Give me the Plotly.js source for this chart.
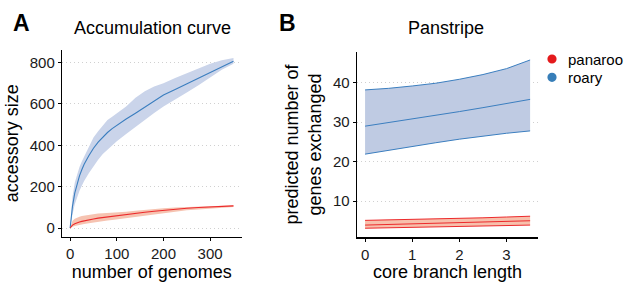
<!DOCTYPE html>
<html>
<head>
<meta charset="utf-8">
<script src="https://cdn.plot.ly/plotly-3.0.1.min.js"></script>
<style>
html,body{margin:0;padding:0;background:#fff;}
#chart{width:626px;height:282px;}
</style>
</head>
<body>
<div id="chart"></div>
<script>
// Panel A: accumulation curve
const accX = [0,2,5,10,15,20,25,30,40,50,60,70,80,90,100,120,140,160,180,200,225,250,275,300,325,350];
const roaryAccMean  = [0,55,105,170,215,252,282,308,350,386,415,440,462,481,497,527,555,584,613,643,670,697,722,748,778,806];
const roaryAccUpper = [0,85,150,220,262,295,322,345,392,438,468,498,522,538,555,588,630,662,685,700,725,748,772,795,812,822];
const roaryAccLower = [0,30,65,115,150,180,205,228,265,300,330,358,380,400,420,455,490,522,556,588,624,656,690,728,765,795];
const panarooAccMean  = [0,8,14,21,26,29,32,35,40,44,48,51,54,58,61,66,71,76,81,86,91,96,99,102,105,107];
const panarooAccUpper = [0,20,35,45,51,55,58,60,64,67,70,71,72,74,75,79,83,88,92,96,99,102,104,106,108,110];
const panarooAccLower = [0,3,6,10,13,15,17,19,23,27,31,34,36,39,42,48,54,60,66,72,80,86,90,94,98,102];

// Panel B: Panstripe
const branchX = [0,0.5,1,1.5,2,2.5,3,3.5];
const roaryPsMean  = [29.0,29.9,30.8,31.7,32.7,33.7,34.7,35.8];
const roaryPsUpper = [38.2,38.6,39.2,39.9,40.9,42.1,43.6,45.8];
const roaryPsLower = [21.9,22.9,23.9,24.8,25.7,26.5,27.2,27.8];
const panarooPsMean  = [3.9,4.05,4.2,4.35,4.5,4.65,4.8,5.0];
const panarooPsUpper = [5.1,5.2,5.3,5.45,5.6,5.75,5.95,6.15];
const panarooPsLower = [3.1,3.2,3.3,3.4,3.5,3.6,3.75,3.9];

const seriesNames = ["panaroo","roary"];
const legendColors = ["#e41a1c","#377eb8"];
const accXTicks = [0,100,200,300];
const accYTicks = [0,200,400,600,800];
const psXTicks = [0,1,2,3];
const psYTicks = [10,20,30,40];

const BLUE = "#3b7ebf", RED = "#ec2a2c";
const BLUE_FILL_A = "#cad4ea", RED_FILL_A = "#f6c3b1";
const BLUE_FILL_B = "#bfcbe3", RED_FILL_B = "#f7c0ac";
const FONT = "Liberation Sans, Arial, sans-serif";
const W = 626, H = 282;

function band(x, lo, hi, fill, xa, ya, lineColor, lw) {
  const w = lineColor ? lw : 0;
  return [
    {x:x, y:lo, xaxis:xa, yaxis:ya, type:"scatter", mode:"lines",
     line:{color: lineColor || fill, width: w}, showlegend:false, hoverinfo:"skip"},
    {x:x, y:hi, xaxis:xa, yaxis:ya, type:"scatter", mode:"lines", fill:"tonexty",
     fillcolor:fill, line:{color: lineColor || fill, width: w}, showlegend:false, hoverinfo:"skip"}
  ];
}
function line(x, y, color, xa, ya, w) {
  return {x:x, y:y, xaxis:xa, yaxis:ya, type:"scatter", mode:"lines",
          line:{color:color, width:w}, showlegend:false, hoverinfo:"skip"};
}

const traces = [].concat(
  band(accX, roaryAccLower, roaryAccUpper, BLUE_FILL_A, "x", "y"),
  band(accX, panarooAccLower, panarooAccUpper, RED_FILL_A, "x", "y"),
  [line(accX, roaryAccMean, BLUE, "x", "y", 1.1), line(accX, panarooAccMean, RED, "x", "y", 1.1)],
  band(branchX, roaryPsLower, roaryPsUpper, BLUE_FILL_B, "x2", "y2", BLUE, 1),
  band(branchX, panarooPsLower, panarooPsUpper, RED_FILL_B, "x2", "y2", RED, 1),
  [line(branchX, roaryPsMean, BLUE, "x2", "y2", 1), line(branchX, panarooPsMean, RED, "x2", "y2", 1)]
);

const axBase = {
  showline:true, linecolor:"#000", linewidth:1.2, ticks:"outside", ticklen:3, tickwidth:1,
  tickcolor:"#000", tickfont:{family:FONT, size:15, color:"#1a1a1a"}, zeroline:false,
  showgrid:false, fixedrange:true
};
const yBase = Object.assign({}, axBase, {showgrid:true, gridcolor:"#d0d0d0", griddash:"1.5px,2.5px", gridwidth:1});

// manual legend (key dots + labels)
const legendShapes = [], legendAnn = [];
seriesNames.forEach((name, i) => {
  const cx = 552, cy = 59 + i * 18.3, r = 4.6;
  legendShapes.push({type:"circle", xref:"paper", yref:"paper",
    x0:(cx - r) / W, x1:(cx + r) / W, y0:1 - (cy + r) / H, y1:1 - (cy - r) / H,
    fillcolor:legendColors[i], line:{width:0}});
  legendAnn.push({text:name, x:566 / W, y:1 - cy / H, xref:"paper", yref:"paper",
    xanchor:"left", yanchor:"middle", showarrow:false, font:{family:FONT, size:15, color:"#000"}});
});

const layout = {
  width:W, height:H, margin:{l:0,r:0,t:0,b:0},
  paper_bgcolor:"#fff", plot_bgcolor:"#fff",
  font:{family:FONT, color:"#000"},
  showlegend:false,
  xaxis: Object.assign({}, axBase, {domain:[0.099,0.386], range:[-17.5,367.5], tickvals:accXTicks, anchor:"y",
          title:{text:"number of genomes", font:{family:FONT, size:18, color:"#000"}, standoff:6}}),
  yaxis: Object.assign({}, yBase, {domain:[0.1606,0.8227], range:[-42,861], tickvals:accYTicks, anchor:"x",
          title:{text:"accessory size", font:{family:FONT, size:18, color:"#000"}, standoff:6}}),
  xaxis2: Object.assign({}, axBase, {domain:[0.570,0.860], range:[-0.175,3.675], tickvals:psXTicks, anchor:"y2",
          title:{text:"core branch length", font:{family:FONT, size:18, color:"#000"}, standoff:6}}),
  yaxis2: Object.assign({}, yBase, {domain:[0.1585,0.8167], range:[0.8,47.9], tickvals:psYTicks, anchor:"x2",
          title:{text:"predicted number of<br>genes exchanged", font:{family:FONT, size:18, color:"#000"}, standoff:6}}),
  shapes: legendShapes,
  annotations:[
    {text:"<b>A</b>", x:21/W, y:1-23/H, xref:"paper", yref:"paper", xanchor:"center", yanchor:"middle", showarrow:false,
     font:{family:FONT, size:23, color:"#000"}},
    {text:"<b>B</b>", x:287/W, y:1-23/H, xref:"paper", yref:"paper", xanchor:"center", yanchor:"middle", showarrow:false,
     font:{family:FONT, size:23, color:"#000"}},
    {text:"Accumulation curve", x:152/W, y:1-28/H, xref:"paper", yref:"paper", xanchor:"center", yanchor:"middle", showarrow:false,
     font:{family:FONT, size:18, color:"#000"}},
    {text:"Panstripe", x:446/W, y:1-28/H, xref:"paper", yref:"paper", xanchor:"center", yanchor:"middle", showarrow:false,
     font:{family:FONT, size:18, color:"#000"}}
  ].concat(legendAnn)
};

Plotly.newPlot("chart", traces, layout, {staticPlot:true, displayModeBar:false});
</script>
</body>
</html>
